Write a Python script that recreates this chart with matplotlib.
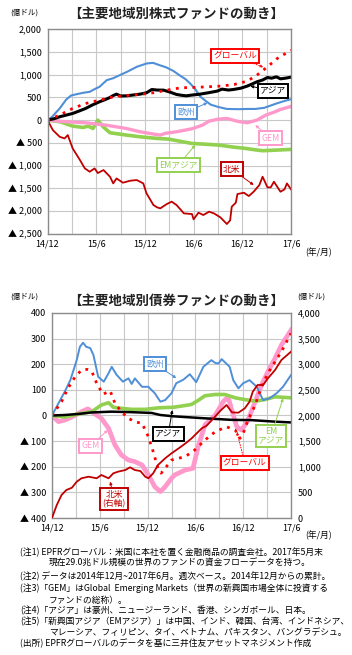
import matplotlib
matplotlib.use("Agg")
import matplotlib.pyplot as plt

plt.rcParams['font.family'] = ['Noto Sans CJK JP', 'DejaVu Sans']

W, H = 352, 655

# ---- equity funds (months since 2014/12, 100m USD) ----
eu_eq_m = [0, 0.5, 1.5, 2.3, 2.9, 3.5, 4.4, 5.2, 5.8, 6.4, 7.3, 8.1, 8.9, 9.8, 11.0, 12.2, 13.0, 13.9, 14.6,
           15.5, 16.3, 17.0, 17.6, 18.2, 18.8, 19.5, 20.1, 21.0, 22.1, 23.5, 24.6, 25.6, 26.7, 27.5, 28.3, 29.2, 30]
eu_eq = [0, 60, 256, 450, 540, 565, 600, 621, 680, 730, 877, 920, 987, 1060, 1170, 1243, 1257, 1200, 1160,
         1080, 980, 900, 800, 680, 520, 420, 340, 290, 245, 240, 245, 245, 270, 320, 370, 420, 460]

asia_eq_m = [0, 0.8, 1.5, 2.3, 3.1, 3.9, 4.7, 5.5, 6.4, 7.1, 7.7, 8.1, 8.5, 9.0, 9.7, 10.5, 11.4, 12.2, 12.85,
             13.5, 14.3, 15.0, 15.9, 16.5, 17.1, 17.8, 18.8, 19.8, 20.9, 21.5, 22.3, 22.9, 23.8, 24.6, 25.3,
             25.8, 26.5, 27.1, 27.6, 28.2, 28.7, 29.3, 30]
asia_eq = [0, 30, 73, 110, 146, 200, 256, 330, 402, 450, 497, 540, 570, 530, 533, 550, 570, 600, 672,
           660, 658, 620, 563, 545, 533, 550, 570, 600, 636, 680, 660, 672, 700, 746, 800,
           841, 880, 936, 920, 950, 906, 920, 943]

gl_eq_m = [0, 1.5, 3.1, 4.7, 6.4, 8.1, 9.7, 11.4, 13.0, 14.7, 16.4, 18.0, 19.7, 21.3, 23.0, 24.6, 25.8, 27.1, 28.3, 30]
gl_eq = [0, 110, 256, 365, 438, 511, 540, 563, 600, 658, 709, 717, 731, 746, 782, 855, 987, 1170, 1352, 1535]

gem_eq_m = [0, 2.3, 4.7, 7.2, 9.7, 11.4, 12.85, 13.9, 14.5, 15.9, 17.8, 19.1, 19.9, 21.0, 22.1, 23.5, 24.6,
            25.8, 26.9, 28.0, 28.7, 30]
gem_eq = [0, -37, -59, -110, -183, -256, -300, -329, -290, -256, -190, -110, -22, 20, 37, -30, -59,
          0, 110, 180, 234, 300]

ema_eq_m = [0, 1.6, 3.1, 4.4, 5.0, 5.6, 6.2, 6.85, 7.7, 9.75, 11.4, 13.5, 14.9, 16.5, 17.8, 19.5, 21.1,
            22.8, 24.4, 25.5, 26.5, 28.0, 30]
ema_eq = [0, -37, -132, -161, -132, -183, 0, -146, -278, -329, -366, -402, -417, -470, -512, -530, -548,
          -590, -621, -650, -672, -660, -643]

na_eq_m = [0, 0.66, 1.5, 2.1, 2.5, 3.1, 4.0, 4.6, 5.2, 5.8, 6.2, 6.9, 7.7, 8.1, 8.5, 9.3, 10.2, 11.0, 11.8,
           12.2, 13.05, 13.5, 13.9, 14.7, 15.3, 15.9, 16.8, 17.8, 18.0, 18.6, 19.2, 19.9, 20.5, 21.3, 22.1,
           22.5, 22.7, 23.2, 23.4, 24.2, 24.8, 25.4, 26.1, 26.5, 27.1, 27.5, 27.9, 28.7, 29.2, 29.5, 30]
na_eq = [0, -219, -366, -402, -329, -621, -877, -1060, -1133, -1060, -1162, -1096, -1243, -1389, -1280,
         -1374, -1330, -1316, -1389, -1608, -1864, -1915, -1937, -1842, -1790, -1864, -2047, -2062, -2178,
         -2032, -2084, -2010, -2047, -2135, -2281, -2200, -1901, -1813, -1623, -1594, -1667, -1572, -1425,
         -1243, -1476, -1476, -1352, -1572, -1520, -1389, -1520]

# ---- bond funds ----
eu_bd_m = [0, 0.8, 1.6, 2.3, 3.1, 3.5, 3.9, 4.3, 4.8, 5.2, 5.8, 6.5, 7.1, 7.5, 8.1, 8.9, 9.6, 10.0, 10.4,
           11.3, 12.1, 12.9, 13.6, 14.2, 15.0, 15.6, 16.5, 17.3, 18.1, 19.0, 20.0, 20.5, 20.9, 21.3, 22.3,
           22.75, 23.4, 24.0, 24.8, 25.7, 26.5, 27.3, 28.2, 29.0, 30]
eu_bd = [0, 47, 93, 138, 216, 268, 284, 268, 263, 236, 151, 132, 165, 190, 159, 132, 145, 123, 145,
         112, 112, 87, 54, 60, 87, 126, 140, 161, 130, 190, 216, 205, 203, 220, 190,
         138, 106, 126, 138, 112, 60, 67, 87, 112, 158]

gl_bd_m = [0, 1.2, 2.0, 2.9, 3.7, 4.4, 5.0, 5.6, 6.4, 7.3, 7.9, 8.7, 9.6, 10.4, 11.3, 12.1, 12.7, 13.3, 13.7,
           14.2, 15.0, 15.4, 16.7, 17.9, 19.2, 20.5, 21.9, 23.0, 23.6, 24.0, 24.6, 25.5, 26.3, 27.1, 28.0, 28.8, 30]
gl_bd = [0, 54, 106, 151, 177, 180, 172, 126, 83, 96, 48, 15, -11, -25, -30, -83, -141, -206, -225,
         -206, -174, -170, -161, -135, -96, -63, -44, -57, -89, -70, -18, 41, 112, 165, 210, 249, 321]

gem_bd_m = [0, 0.8, 1.6, 2.5, 3.7, 4.5, 5.4, 6.2, 7.1, 7.9, 8.7, 9.6, 10.4, 11.3, 12.1, 12.9, 13.6, 14.2,
            15.0, 15.4, 16.7, 17.7, 18.4, 19.2, 20.5, 21.5, 22.1, 22.5, 23.2, 23.8, 24.6, 25.5, 26.3, 27.1,
            28.0, 28.8, 30]
gem_bd = [0, -24, -18, -6, 15, 26, 6, -11, -50, -115, -154, -174, -180, -193, -232, -278, -297, -278,
          -245, -232, -213, -206, -115, -37, 2, 54, 73, 28, -44, -57, -18, 54, 119, 171,
          223, 275, 333]

ema_bd_m = [0, 1.6, 3.3, 5.0, 6.2, 7.1, 7.7, 8.7, 10.0, 11.7, 13.4, 15.2, 16.5, 17.5, 18.4, 19.2, 20.5,
            21.7, 23.0, 24.2, 25.5, 26.7, 28.0, 30]
ema_bd = [0, -6, 6, 15, 41, 50, 32, 28, 24, 24, 30, 32, 38, 43, 60, 77, 82, 82, 69, 62, 56, 62, 73, 69]

asia_bd_m = [0, 1.6, 3.3, 5.0, 7.5, 10.0, 12.5, 13.6, 15.2, 16.7, 19.2, 22.5, 25.0, 28.0, 30]
asia_bd = [0, 2, 6, 12, 15, 13, 10, 2, -3, -6, -11, -17, -18, -24, -27]

# north america bonds are on the right axis
na_bd_m = [0, 0.6, 1.2, 1.8, 2.5, 3.1, 3.7, 4.6, 5.6, 6.2, 7.1, 7.7, 8.3, 9.2, 9.8, 10.4, 11.1, 11.7, 12.1,
           12.7, 13.3, 14.2, 15.0, 15.9, 16.7, 17.5, 18.8, 19.4, 20.0, 21.1, 21.9, 22.6, 23.4, 24.2, 24.8,
           25.2, 25.8, 26.5, 27.1, 28.0, 28.8, 30]
na_bd = [0, 254, 449, 546, 591, 708, 775, 806, 775, 839, 775, 872, 904, 936, 989, 936, 916, 806, 775,
         872, 1034, 1164, 1262, 1359, 1450, 1550, 1750, 1800, 1900, 2087, 2205, 2061, 2055, 2140, 2270,
         2464, 2595, 2595, 2725, 2888, 3083, 3245]

x_ticks = [0, 6, 12, 18, 24, 30]
x_labels = ['14/12', '15/6', '15/12', '16/6', '16/12', '17/6']

eq_ticks = [2000, 1500, 1000, 500, 0, -500, -1000, -1500, -2000, -2500]
eq_labels = ['2,000', '1,500', '1,000', '500', '0', '▲ 500', '▲ 1,000', '▲ 1,500', '▲ 2,000', '▲ 2,500']
bd_ticks = [400, 300, 200, 100, 0, -100, -200, -300, -400]
bd_labels = ['400', '300', '200', '100', '0', '▲ 100', '▲ 200', '▲ 300', '▲ 400']
bd_r_ticks = [4000, 3500, 3000, 2500, 2000, 1500, 1000, 500, 0]
bd_r_labels = ['4,000', '3,500', '3,000', '2,500', '2,000', '1,500', '1,000', '500', '0']

BLUE = '#4f8fd8'
PINK = '#ff99cc'
GREEN = '#92d050'
RED = '#ff0000'
DRED = '#c00000'
TS = 6.3


def fx(x):
    return x / W


def fy(y):
    return 1 - y / H


def style_axes(ax, ylim, yt, yl):
    ax.set_xlim(0, 30)
    ax.set_ylim(*ylim)
    ax.set_xticks(x_ticks)
    ax.set_xticklabels(x_labels, fontsize=6.5)
    ax.set_xticks(range(0, 31, 3), minor=True)
    ax.set_yticks(yt)
    ax.set_yticklabels(yl, fontsize=6.5)
    ax.tick_params(length=0, which='both', pad=4)
    ax.grid(True, which='both', color='#c8c8c8', lw=0.8)
    ax.set_axisbelow(True)
    for s in ax.spines.values():
        s.set_color('#8c8c8c')
        s.set_linewidth(1)


def label(ax, text, xy, xytext, color, ls='-'):
    ax.annotate(text, xy=xy, xytext=xytext, fontsize=TS, color=color, ha='center', va='center',
                linespacing=1.0,
                bbox=dict(boxstyle='square,pad=0.25', fc='white', ec=color, lw=1.4),
                arrowprops=dict(arrowstyle='-|>', color=color, lw=0.7, ls=ls, mutation_scale=4,
                                shrinkA=0, shrinkB=0))


fig = plt.figure(figsize=(W / 100, H / 100), dpi=100)

# ---- top chart ----
ax1 = fig.add_axes([fx(47.5), fy(234), fx(291) - fx(47.5), 205 / H])
style_axes(ax1, (-2500, 2000), eq_ticks, eq_labels)
ax1.plot(ema_eq_m, ema_eq, color=GREEN, lw=2.6)
ax1.plot(gem_eq_m, gem_eq, color=PINK, lw=2.4)
ax1.plot(eu_eq_m, eu_eq, color=BLUE, lw=1.5)
ax1.plot(na_eq_m, na_eq, color=DRED, lw=1.3)
ax1.plot(asia_eq_m, asia_eq, color='black', lw=2.2)
ax1.plot(gl_eq_m, gl_eq, color=RED, lw=2.0, ls=(0, (1, 2)))

label(ax1, 'グローバル', (26.6, 1160), (23.1, 1404), RED, ls=':')
label(ax1, 'アジア', (25.0, 746), (27.8, 636), 'black')
label(ax1, '欧州', (19.7, 380), (17.1, 175), BLUE)
label(ax1, 'GEM', (25.6, -110), (27.5, -395), PINK)
label(ax1, 'EMアジア', (18.2, -548), (16.1, -987), GREEN)
label(ax1, '北米', (25.4, -1425), (22.7, -1075), DRED)

fig.text(0.5, fy(14), '【主要地域別株式ファンドの動き】', fontsize=9.7, fontweight='bold',
         ha='center', va='center', color='#222222')
fig.text(fx(24), fy(13), '(億ドル)', fontsize=5.5, ha='center', va='center')
fig.text(fx(319), fy(252), '(年/月)', fontsize=6.3, ha='center', va='center')

# ---- bottom chart ----
ax2 = fig.add_axes([fx(52), fy(518), fx(291) - fx(52), 205 / H])
style_axes(ax2, (-400, 400), bd_ticks, bd_labels)
ax2r = ax2.twinx()
ax2r.set_ylim(0, 4000)
ax2r.set_yticks(bd_r_ticks)
ax2r.set_yticklabels(bd_r_labels, fontsize=6.5)
ax2r.tick_params(length=0, pad=5)
for s in ax2r.spines.values():
    s.set_visible(False)

ax2.plot(gem_bd_m, gem_bd, color=PINK, lw=3.4)
ax2.plot(ema_bd_m, ema_bd, color=GREEN, lw=2.6)
ax2.plot(eu_bd_m, eu_bd, color=BLUE, lw=1.4)
ax2.plot(asia_bd_m, asia_bd, color='black', lw=1.8)
ax2r.plot(na_bd_m, na_bd, color=DRED, lw=1.3)
ax2.plot(gl_bd_m, gl_bd, color=RED, lw=2.0, ls=(0, (1, 2)))

label(ax2r, '欧州', (15.6, 2730), (12.9, 3005), BLUE)
label(ax2r, 'アジア', (15.1, 2105), (14.6, 1640), 'black')
label(ax2r, 'GEM', (7.0, 1715), (4.8, 1405), PINK)
label(ax2r, '北米\n(右軸)', (7.3, 710), (7.8, 370), DRED)
label(ax2r, 'グローバル', (23.2, 1685), (24.2, 1075), RED, ls=':')
label(ax2r, 'EM\nアジア', (29.0, 2335), (27.5, 1600), GREEN)

fig.text(0.5, fy(301), '【主要地域別債券ファンドの動き】', fontsize=9.7, fontweight='bold',
         ha='center', va='center', color='#222222')
fig.text(fx(24), fy(297), '(億ドル)', fontsize=5.5, ha='center', va='center')
fig.text(fx(311), fy(297), '(億ドル)', fontsize=5.5, ha='center', va='center')
fig.text(fx(319), fy(535), '(年/月)', fontsize=6.3, ha='center', va='center')

# ---- notes ----
notes = [
    (20, 552, '(注1) EPFRグローバル：米国に本社を置く金融商品の調査会社。2017年5月末'),
    (49, 563, '現在29.0兆ドル規模の世界のファンドの資金フローデータを持つ。'),
    (20, 576, '(注2) データは2014年12月~2017年6月。週次ベース。2014年12月からの累計。'),
    (20, 588, '(注3)「GEM」はGlobal  Emerging Markets（世界の新興国市場全体に投資する'),
    (49, 600, 'ファンドの総称）。'),
    (20, 611, '(注4)「アジア」は豪州、ニュージーランド、香港、シンガポール、日本。'),
    (20, 622, '(注5)「新興国アジア（EMアジア）」は中国、インド、韓国、台湾、インドネシア、'),
    (49, 632, 'マレーシア、フィリピン、タイ、ベトナム、パキスタン、バングラデシュ。'),
    (20, 643, '(出所) EPFRグローバルのデータを基に三井住友アセットマネジメント作成'),
]
for x, y, t in notes:
    fig.text(fx(x), fy(y), t, fontsize=6.3, ha='left', va='center')

fig.savefig('out.png', dpi=100, facecolor='white')
